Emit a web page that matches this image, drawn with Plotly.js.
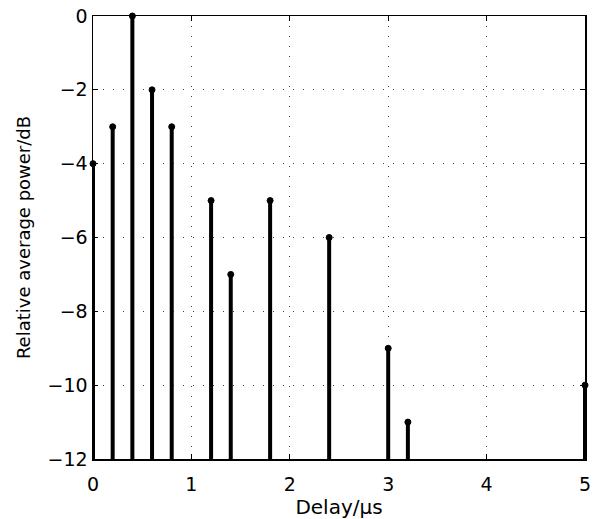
<!DOCTYPE html>
<html>
<head>
<meta charset="utf-8">
<script src="https://cdn.plot.ly/plotly-3.0.1.min.js"></script>
<style>
  html, body { margin: 0; padding: 0; background: #fff; }
  #chart { width: 596px; height: 519px; }
</style>
</head>
<body>
<div id="chart"></div>
<script>
// Power delay profile: tap delays (µs) and relative average power (dB)
const delays = [0, 0.2, 0.4, 0.6, 0.8, 1.2, 1.4, 1.8, 2.4, 3.0, 3.2, 5.0];
const powers = [-4, -3, 0, -2, -3, -5, -7, -5, -6, -9, -11, -10];
const baseline = -12;

const xTicks = [0, 1, 2, 3, 4, 5];
const yTicks = [-12, -10, -8, -6, -4, -2, 0];
const yTickText = yTicks.map(v => (v < 0 ? '\u2212' + Math.abs(v) : String(v)));

// Build stem segments (baseline -> value) separated by gaps
const stemX = [], stemY = [];
delays.forEach((d, i) => {
  stemX.push(d, d, null);
  stemY.push(baseline, powers[i], null);
});

const font = { family: 'DejaVu Sans, sans-serif', color: '#000' };

const traces = [
  {
    x: stemX, y: stemY, type: 'scatter', mode: 'lines',
    line: { color: '#000', width: 4 }, hoverinfo: 'skip',
    cliponaxis: false
  },
  {
    x: delays, y: powers, type: 'scatter', mode: 'markers',
    marker: { color: '#000', size: 6, line: { color: '#000', width: 1 } },
    cliponaxis: false
  }
];

const axisCommon = {
  showline: true, linecolor: '#000', linewidth: 1.5, mirror: 'ticks',
  ticks: 'inside', ticklen: 5, tickwidth: 1, tickcolor: '#000',
  showgrid: true, gridcolor: '#444', gridwidth: 1, griddash: '1px,9px',
  zeroline: false, tickfont: Object.assign({ size: 19 }, font)
};

const layout = {
  width: 596, height: 519,
  margin: { l: 93, r: 11, t: 16, b: 60 },
  paper_bgcolor: '#fff', plot_bgcolor: '#fff',
  showlegend: false,
  xaxis: Object.assign({}, axisCommon, {
    range: [0, 5], tickvals: xTicks, ticktext: xTicks.map(String),
    ticklabelstandoff: 8,
    title: { text: 'Delay/\u03bcs', font: Object.assign({ size: 20 }, font), standoff: 4 }
  }),
  yaxis: Object.assign({}, axisCommon, {
    range: [-12, 0], tickvals: yTicks, ticktext: yTickText,
    title: { text: 'Relative average power/dB', font: Object.assign({ size: 18 }, font), standoff: 12 }
  })
};

Plotly.newPlot('chart', traces, layout, { displayModeBar: false, staticPlot: true });
</script>
</body>
</html>
